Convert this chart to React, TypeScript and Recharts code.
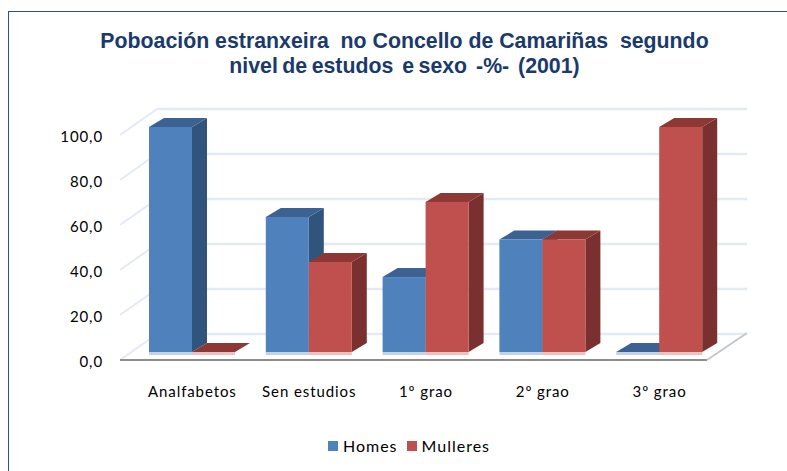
import React from "react";
import { BarChart, Bar, XAxis, YAxis, CartesianGrid, Legend } from "recharts";

const categories = ["Analfabetos", "Sen estudios", "1º grao", "2º grao", "3º grao"];
const homes = [100, 60, 33.3, 50, 0];
const mulleres = [0, 40, 66.7, 50, 100];
const yTicks = [0, 20, 40, 60, 80, 100];

const rows = categories.map((name, i) => ({ name, Homes: homes[i], Mulleres: mulleres[i] }));

const DX = 15;
const DY = 9;
const LABEL_FONT = "Lato, Carlito, sans-serif";

const Bar3D = (props: any) => {
  const { x, y, width, height, front, side, top } = props;
  const b = y + height;
  const r = x + width;
  return (
    <g>
      <rect x={x} y={b} width={width} height={3} fill={front} opacity={0.35} />
      <polygon points={`${r},${y} ${r + DX},${y - DY} ${r + DX},${b - DY} ${r},${b}`} fill={side} />
      <polygon points={`${x},${y} ${x + DX},${y - DY} ${r + DX},${y - DY} ${r},${y}`} fill={top} />
      <rect x={x} y={y} width={width} height={height} fill={front} />
    </g>
  );
};

const GRID = "#e3eaf4";
const WALL_LEFT = 120;
const WALL_RIGHT = 707;
const WALL_DX = 37;
const WALL_DY = 26;
const FRONT_OFFSET = 8;

const GridLine = (props: any) => {
  const y = props.y1 + FRONT_OFFSET;
  return (
    <g>
      <line x1={WALL_LEFT} y1={y} x2={WALL_LEFT + WALL_DX} y2={y - WALL_DY} stroke={GRID} strokeWidth={2} />
      <line x1={WALL_LEFT + WALL_DX} y1={y - WALL_DY} x2={WALL_RIGHT + 40} y2={y - WALL_DY} stroke={GRID} strokeWidth={2.5} />
    </g>
  );
};

const XTick = (props: any) => {
  const { x, payload } = props;
  return (
    <text x={x} y={397} textAnchor="middle" fontFamily={LABEL_FONT} fontSize={15} letterSpacing={0.9} fill="#000">
      {payload.value}
    </text>
  );
};

const YTick = (props: any) => {
  const { y, payload } = props;
  const fy = y + FRONT_OFFSET;
  return (
    <g>
      {payload.value === 0 && (
        <g>
          <line x1={WALL_LEFT} y1={fy} x2={WALL_RIGHT} y2={fy} stroke="#8c8c8c" strokeWidth={2} />
          <line x1={WALL_RIGHT} y1={fy} x2={WALL_RIGHT + 40} y2={fy - WALL_DY - 1} stroke="#c4c8cc" strokeWidth={2} />
        </g>
      )}
      <text x={103} y={y + 15} textAnchor="end" fontFamily={LABEL_FONT} fontSize={15} letterSpacing={0.9} fill="#000">
        {payload.value.toFixed(1).replace(".", ",")}
      </text>
    </g>
  );
};

const LegendContent = () => (
  <div style={{ display: "flex", justifyContent: "center", alignItems: "center", fontFamily: LABEL_FONT, fontSize: 16, letterSpacing: 1, color: "#000" }}>
    <span style={{ width: 10, height: 10, background: "#4F81BD", marginRight: 5 }} />
    <span style={{ marginRight: 9 }}>Homes</span>
    <span style={{ width: 10, height: 10, background: "#C0504D", marginRight: 5 }} />
    <span>Mulleres</span>
  </div>
);

const titleLine = { display: "block" };

export default function App() {
  return (
    <div style={{ position: "absolute", left: 0, top: 0, width: 787, height: 471, background: "#fff", overflow: "hidden" }}>
      <div style={{ position: "absolute", left: 8, top: 11, width: 790, height: 480, border: "1.5px solid #2f5283", boxSizing: "border-box" }} />
      <div style={{ position: "absolute", left: 0, top: 29, width: 809, textAlign: "center", whiteSpace: "pre", fontFamily: "'Liberation Sans', Arial, sans-serif", fontWeight: 700, fontSize: 21.3, lineHeight: "25px", color: "#1A3A6B" }}>
        <span style={titleLine}>{"Poboación estranxeira  no Concello de Camariñas  segundo"}</span>
        <span style={{ ...titleLine, wordSpacing: -1.45 }}>{"nivel de estudos  e sexo  -%-  (2001)"}</span>
      </div>
      <div style={{ position: "absolute", left: 0, top: 0 }}>
        <BarChart
          width={787}
          height={471}
          data={rows}
          margin={{ top: 127, right: 69, bottom: 99, left: 133 }}
          barCategoryGap={15}
          barGap={0}
        >
          <CartesianGrid vertical={false} horizontal={(p: any) => <GridLine key={p.key} {...p} />} />
          <XAxis dataKey="name" height={1} axisLine={false} tickLine={false} tick={<XTick />} interval={0} />
          <YAxis
            width={1}
            domain={[0, 100]}
            ticks={yTicks}
            axisLine={false}
            tickLine={false}
            tick={<YTick />}
            interval={0}
          />
          <Legend
            verticalAlign="bottom"
            content={<LegendContent />}
            wrapperStyle={{ position: "absolute", left: 0, width: 818, top: 436, bottom: "auto" }}
          />
          <Bar dataKey="Homes" fill="#4F81BD" isAnimationActive={false} shape={<Bar3D front="#4F81BD" side="#31547C" top="#3B6292" />} />
          <Bar dataKey="Mulleres" fill="#C0504D" isAnimationActive={false} shape={<Bar3D front="#C0504D" side="#7A302E" top="#8E3836" />} />
        </BarChart>
      </div>
    </div>
  );
}
